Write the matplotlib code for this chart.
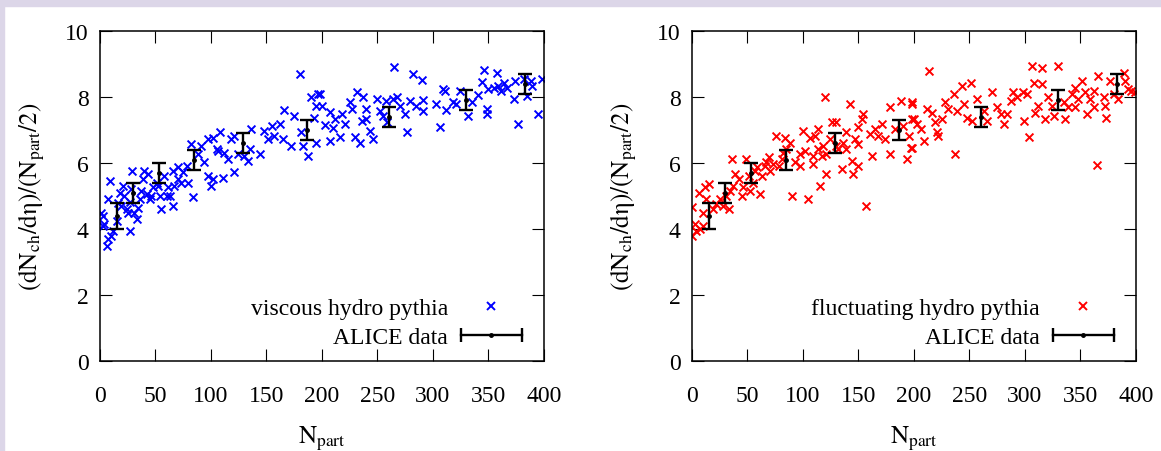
import matplotlib
matplotlib.use("Agg")
import matplotlib.pyplot as plt
from matplotlib.lines import Line2D
from matplotlib.legend_handler import HandlerLine2D
from matplotlib.patches import Rectangle

plt.rcParams['font.family'] = ['Liberation Serif', 'DejaVu Serif']
plt.rcParams['mathtext.fontset'] = 'stix'

# ALICE Pb-Pb data
alice_npart = [382.8, 329.7, 260.5, 186.4, 128.9, 85.0, 52.8, 30.0, 15.8]
alice_val = [8.4, 7.9, 7.4, 7.0, 6.6, 6.1, 5.7, 5.1, 4.4]
alice_err = [0.3, 0.3, 0.3, 0.3, 0.3, 0.3, 0.3, 0.3, 0.4]

# viscous hydro + pythia events
visc_x = [180, 190, 196, 195, 166, 175, 193, 162, 155, 148, 157, 165, 172, 181, 183, 187,
          195, 151, 144, 136, 135, 130, 133, 118, 121, 124, 115, 121, 112, 108, 102, 97,
          105, 106, 111, 102, 97, 100, 91, 94, 88, 82, 84, 78, 79, 75, 70, 70, 66, 67, 66,
          63, 58, 60, 54, 55, 52, 48, 45, 43, 40, 39, 37, 36, 34, 33, 29, 28, 27, 25, 27,
          22, 21, 19, 18, 15, 12, 10, 9, 7, 7, 6, 3, 1, 4, 3, 31, 24, 16, 51, 61, 73, 46, 42,
          265, 282, 290, 346, 358, 198, 200, 207, 203, 212, 210, 207, 218, 216, 221, 225,
          227, 230, 232, 234, 237, 236, 240, 240, 243, 246, 250, 252, 255, 258, 259, 264,
          268, 270, 275, 277, 279, 285, 291, 291, 303, 306, 309, 311, 312, 318, 321, 324,
          332, 335, 341, 344, 349, 349, 350, 355, 359, 361, 364, 367, 373, 374, 377, 382,
          385, 388, 389, 395, 398]
visc_y = [8.69, 7.99, 8.09, 7.74, 7.62, 7.43, 7.38, 7.18, 7.13, 6.98, 6.82, 6.72, 6.52, 6.93,
          6.52, 6.22, 6.62, 6.72, 6.27, 7.03, 6.42, 6.22, 6.07, 6.72, 6.82, 6.27, 6.12, 5.72,
          6.32, 6.93, 6.77, 6.72, 6.42, 6.37, 5.56, 5.51, 5.61, 5.31, 6.52, 6.02, 6.27, 6.57,
          4.97, 5.92, 5.41, 5.72, 5.87, 5.51, 5.77, 5.31, 4.71, 5.0, 5.61, 5.0, 5.0, 4.6,
          5.31, 5.26, 4.91, 5.66, 5.77, 5.51, 5.16, 4.91, 4.65, 4.29, 5.76, 5.21, 4.81, 4.5,
          3.94, 5.0, 5.31, 4.7, 5.1, 4.25, 3.94, 3.79, 5.46, 4.9, 3.69, 3.49, 4.4, 4.5, 4.15,
          4.1, 4.5, 4.6, 4.8, 5.41, 5.26, 5.41, 5.0, 5.06,
          8.9, 8.7, 8.53, 8.82, 8.74, 8.09, 7.74, 7.55, 7.15, 7.33, 7.05, 6.68, 7.48, 6.8,
          7.18, 7.84, 7.64, 6.8, 8.14, 6.6, 7.99, 7.28, 7.64, 7.33, 6.98, 6.73, 7.94, 7.58,
          7.43, 7.89, 7.23, 7.94, 7.99, 7.74, 7.48, 6.95, 7.89, 7.74, 7.92, 7.58, 7.79, 7.1,
          8.24, 8.19, 7.61, 7.84, 7.79, 8.19, 7.43, 7.84, 8.06, 8.46, 7.64, 7.48, 8.24, 8.29,
          8.34, 8.19, 8.44, 8.29, 7.94, 8.49, 7.18, 8.54, 8.04, 8.49, 8.34, 7.48, 8.54]

# fluctuating hydro + pythia events
fluc_x = [120, 142, 0, 3, 0, 4, 7, 10, 6, 12, 15, 13, 10, 19, 22, 25, 28, 31, 33, 34, 37,
          36, 39, 42, 45, 46, 49, 51, 52, 55, 57, 61, 63, 66, 69, 70, 73, 76, 78, 81, 84,
          85, 88, 90, 93, 97, 100, 102, 105, 106, 109, 111, 114, 115, 117, 118, 121, 124,
          126, 130, 132, 135, 136, 139, 144, 145, 147, 150, 150, 153, 154, 157, 160, 162,
          165, 168, 171, 174, 178, 178, 183, 188, 190, 194, 197, 198, 198, 196,
          59, 67, 82, 97, 109, 114, 121, 130, 139, 150,
          214, 198, 200, 198, 203, 206, 209, 212, 216, 219, 221, 222, 225, 228, 231, 236,
          237, 239, 243, 245, 248, 251, 252, 257, 263, 266, 270, 275, 278, 281, 284, 287,
          289, 293, 298, 299, 302, 304, 306, 308, 309, 312, 315, 315, 318, 321, 324, 326,
          330, 335, 336, 339, 342, 345, 345, 348, 351, 354, 356, 359, 362, 362, 365, 366,
          371, 372, 373, 377, 380, 384, 389, 390, 393, 396, 399]
fluc_y = [7.99, 7.79, 4.66, 4.15, 3.79, 3.94, 3.99, 4.1, 5.1, 5.26, 5.36, 4.91, 4.5, 4.6,
          4.76, 4.91, 4.71, 5.0, 4.6, 5.16, 5.31, 6.12, 5.66, 5.51, 5.0, 5.26, 6.12, 5.61,
          5.16, 5.41, 5.77, 5.05, 5.61, 5.92, 6.17, 5.77, 5.97, 6.82, 5.92, 6.12, 6.77, 6.42,
          6.62, 5.0, 6.02, 6.27, 6.98, 6.37, 4.91, 6.77, 6.22, 6.82, 7.03, 5.31, 6.22, 6.52,
          5.66, 6.72, 7.23, 7.23, 6.42, 5.82, 6.62, 6.93, 6.07, 5.66, 6.72, 5.92, 7.08, 7.33,
          7.48, 4.71, 6.88, 6.22, 7.03, 6.82, 7.18, 6.72, 6.27, 7.69, 7.03, 7.89, 7.13, 6.12,
          6.47, 7.33, 7.84, 6.82,
          5.87, 6.02, 6.32, 5.92, 5.97, 6.42, 6.27, 6.52, 6.42, 6.57,
          8.78, 7.79, 7.33, 6.47, 7.18, 7.03, 6.68, 7.64, 7.53, 7.23, 6.93, 6.82, 7.33, 7.84,
          7.64, 8.09, 6.29, 7.58, 8.34, 7.79, 7.38, 8.44, 7.28, 7.94, 7.58, 7.28, 8.14, 7.69,
          7.48, 7.18, 7.48, 7.89, 8.14, 7.99, 8.14, 7.28, 8.09, 6.78, 8.94, 8.44, 7.53, 7.74,
          8.89, 8.39, 7.33, 7.99, 7.74, 7.43, 8.94, 7.84, 7.33, 7.69, 8.09, 8.29, 7.69, 7.94,
          8.49, 8.14, 7.48, 7.94, 8.19, 7.69, 5.95, 8.64, 7.99, 7.74, 7.38, 8.49, 8.09, 7.94,
          8.73, 8.49, 8.24, 8.19, 8.14]

ylab = r'$\mathrm{(dN_{ch}/d\eta)/(N_{part}/2)}$'
xlab = r'$\mathrm{N_{part}}$'
fs = 17

fig = plt.figure(figsize=(11.61, 4.52), dpi=100)
fig.patches.append(Rectangle((0, 0.985), 1, 0.015, transform=fig.transFigure,
                             color='#dcd6e8', zorder=0))
fig.patches.append(Rectangle((0, 0), 0.0035, 1, transform=fig.transFigure,
                             color='#dcd6e8', zorder=0))

panels = [
    ([0.0861, 0.199, 0.3824, 0.730], visc_x, visc_y, 'blue', 'viscous hydro pythia'),
    ([0.5960, 0.199, 0.3824, 0.730], fluc_x, fluc_y, 'red', 'fluctuating hydro pythia'),
]

for rect, xs, ys, col, lab in panels:
    ax = fig.add_axes(rect)
    ax.scatter(xs, ys, marker='x', s=32, linewidths=1.4, color=col, zorder=2)
    ax.errorbar(alice_npart, alice_val, yerr=alice_err, fmt='o', ms=2.5, color='black',
                elinewidth=1.7, capsize=4.8, capthick=1.7, zorder=3)
    ax.set_xlim(0, 400)
    ax.set_ylim(0, 10)
    ax.set_xticks(range(0, 401, 50))
    ax.set_yticks(range(0, 11, 2))
    ax.tick_params(direction='in', top=True, right=True, length=8.5, width=0.8,
                   labelsize=fs)
    ax.tick_params(axis='x', pad=17.5)
    ax.tick_params(axis='y', pad=8)
    for sp in ax.spines.values():
        sp.set_linewidth(1.1)
    ax.set_ylabel(ylab, fontsize=fs + 1)
    ax.yaxis.set_label_coords(-0.12, 0.5)
    ax.set_xlabel(xlab, fontsize=fs + 1)
    ax.xaxis.set_label_coords(0.5, -0.19)

    h_pts = Line2D([], [], ls='none', marker='x', ms=5.8, mew=1.4, color=col)
    h_bar = Line2D([], [], color='black', lw=1.7, marker='|', ms=10, mew=1.7)
    h_dot = Line2D([], [], ls='none', marker='o', ms=2.5, color='black')
    ax.legend([h_pts, (h_bar, h_dot)], [lab, 'ALICE data'],
              handler_map={h_bar: HandlerLine2D(numpoints=2),
                           h_dot: HandlerLine2D(numpoints=1)},
              loc='lower right', bbox_to_anchor=(0.967, 0.039), borderaxespad=0,
              borderpad=0, frameon=False, markerfirst=False, fontsize=fs,
              handlelength=3.2, handletextpad=0.25, labelspacing=0.32)

fig.savefig('out.png', dpi=100)
